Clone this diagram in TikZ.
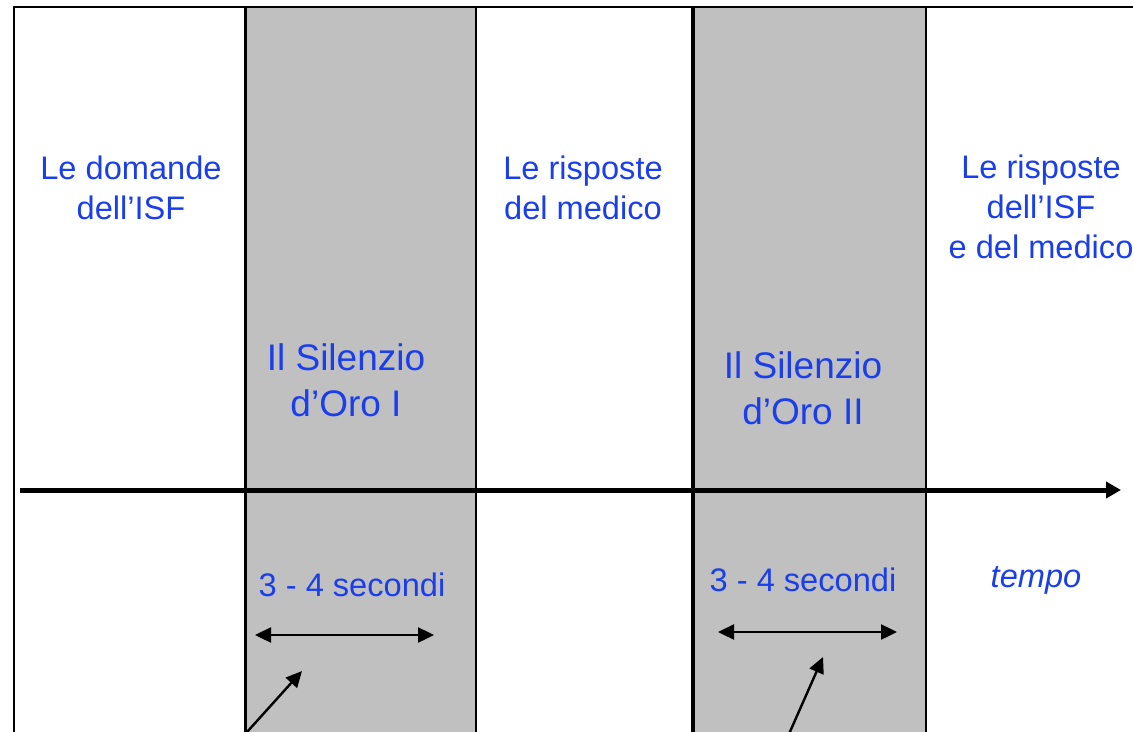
\documentclass[tikz,border=0pt]{standalone}
\usepackage{fontspec}
\setmainfont{Liberation Sans}
\usepackage{tikz}
\usetikzlibrary{arrows.meta,positioning}

\definecolor{isfblue}{RGB}{26,62,236}
\definecolor{silgray}{RGB}{192,192,192}

\tikzset{
	label text/.style = {text=isfblue, align=center, inner sep=0pt, font=\fontsize{16.3}{20}\selectfont},
	silence text/.style = {text=isfblue, align=center, inner sep=0pt, font=\fontsize{18.5}{23}\selectfont},
	span arrow/.style = {line width=1.2pt, {Triangle[length=8pt,width=7.5pt]}-{Triangle[length=8pt,width=7.5pt]}},
	pointer/.style = {line width=1.2pt, -{Triangle[length=8pt,width=7.5pt]}}
}

\begin{document}
\begin{tikzpicture}[x=0.5pt, y=-0.5pt]
	\useasboundingbox (0, 0) rectangle (1133, 732);
	\clip (0, 0) rectangle (1133, 732);

	% silent bands
	\fill[silgray] (245, 7) rectangle (476, 750);
	\fill[silgray] (693, 7) rectangle (926, 750);

	% frame and column lines
	\draw[line width=1.3pt] (1150, 7) -- (14, 7) -- (14, 750);
	\draw[line width=1.5pt] (245, 7) -- (245, 750);
	\draw[line width=1.1pt] (476, 7) -- (476, 750);
	\draw[line width=2pt] (693, 7) -- (693, 750);
	\draw[line width=1.1pt] (926, 7) -- (926, 750);

	% time axis
	\coordinate (t0) at (20, 490);
	\coordinate (t1) at (1121, 490);
	\draw[line width=2.5pt, -{Triangle[length=7.5pt,width=8pt]}] (t0) -- (t1);

	\node[label text] (isfq) at (131, 188) {Le domande\\dell’ISF};
	\node[label text] (docans) at (583, 188) {Le risposte\\del medico};
	\node[label text] (bothans) at (1041, 207) {Le risposte\\dell’ISF\\e del medico};

	\node[silence text] (silone) at (346, 380) {Il Silenzio\\d’Oro I};
	\node[silence text] (siltwo) at (803, 388) {Il Silenzio\\d’Oro II};

	\node[label text] (secone) at (352, 585) {3 - 4 secondi};
	\node[label text] (sectwo) at (803, 580) {3 - 4 secondi};
	\node[label text, font=\fontsize{16.3}{20}\selectfont\itshape] (tempo) at (1036, 580) {tempo};

	% durations
	\coordinate (aone) at (255, 635);
	\coordinate (bone) at (434, 635);
	\coordinate (atwo) at (718, 632);
	\coordinate (btwo) at (897, 632);
	\draw[span arrow] (aone) -- (bone);
	\draw[span arrow] (atwo) -- (btwo);

	% pointers from below
	\coordinate (pone) at (238, 742);
	\coordinate (qone) at (302, 671);
	\coordinate (ptwo) at (785, 743);
	\coordinate (qtwo) at (823, 657);
	\draw[pointer] (pone) -- (qone);
	\draw[pointer] (ptwo) -- (qtwo);

\end{tikzpicture}
\end{document}
